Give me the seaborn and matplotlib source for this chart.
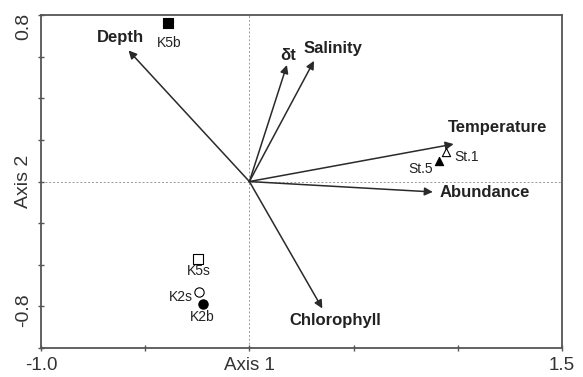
import matplotlib
matplotlib.use("Agg")
import matplotlib.pyplot as plt
import matplotlib.transforms as mtransforms
import seaborn as sns
import pandas as pd

# ---- data ----
site_names = ["K5b", "K5s", "K2s", "K2b", "St.1", "St.5"]
site_x = [-0.39, -0.245, -0.24, -0.225, 0.945, 0.91]
site_y = [0.76, -0.37, -0.53, -0.59, 0.14, 0.10]
site_marker = ["s", "s", "o", "o", "^", "^"]
site_filled = [True, False, False, True, False, True]
site_label_x = [-0.385, -0.245, -0.33, -0.225, 1.04, 0.82]
site_label_y = [0.667, -0.43, -0.555, -0.65, 0.12, 0.062]

var_names = ["Depth", "δt", "Salinity", "Temperature", "Abundance", "Chlorophyll"]
var_x = [-0.58, 0.18, 0.31, 0.98, 0.88, 0.35]
var_y = [0.63, 0.56, 0.58, 0.18, -0.05, -0.61]
var_label_x = [-0.62, 0.187, 0.40, 1.19, 1.13, 0.41]
var_label_y = [0.69, 0.605, 0.64, 0.26, -0.055, -0.67]

x_ticks = [-1.0, -0.5, 0.0, 0.5, 1.0, 1.5]
x_tick_labels = ["-1.0", "", "Axis 1", "", "", "1.5"]
y_ticks = [-0.8, -0.6, -0.4, -0.2, 0.0, 0.2, 0.4, 0.6, 0.8]
y_label_texts = ["-0.8", "Axis 2", "0.8"]
y_label_pos = [-0.62, 0.0, 0.745]

sns.set_style("white")
plt.rcParams["font.family"] = ["Liberation Sans", "DejaVu Sans"]

fig = plt.figure(figsize=(5.83, 3.77), dpi=100)
ax = fig.add_axes([0.0703, 0.0769, 0.8937, 0.8831])

ax.set_xlim(-1.0, 1.5)
ax.set_ylim(-0.8, 0.8)

ax.axvline(0, color="#999999", lw=0.7, ls=(0, (2, 2)), zorder=0)
ax.axhline(0, color="#999999", lw=0.7, ls=(0, (2, 2)), zorder=0)

# arrows
for name, vx, vy, lx, ly in zip(var_names, var_x, var_y, var_label_x, var_label_y):
    ax.annotate("", xy=(vx, vy), xytext=(0, 0),
                arrowprops=dict(arrowstyle="-|>", color="#2a2a2a", lw=1.1,
                                mutation_scale=12, shrinkA=0, shrinkB=0))
    ax.text(lx, ly, name, fontsize=12, fontweight="bold", color="#222222",
            ha="center", va="center")

# sites
df = pd.DataFrame({"x": site_x, "y": site_y, "name": site_names})
sizes = {"s": 55, "o": 45, "^": 35}
for i, row in df.iterrows():
    m = site_marker[i]
    fc = "black" if site_filled[i] else "white"
    sns.scatterplot(x=[row["x"]], y=[row["y"]], marker=m, s=sizes[m], color=fc,
                    edgecolor="black", linewidth=0.8, ax=ax, zorder=3)
    ax.text(site_label_x[i], site_label_y[i], row["name"], fontsize=10,
            color="#222222", ha="center", va="center")

# ticks
ax.set_xticks(x_ticks)
ax.set_xticklabels(x_tick_labels, fontsize=13.5, color="#333333")
ax.set_yticks(y_ticks)
ax.set_yticklabels([""] * len(y_ticks))
ax.tick_params(axis="both", direction="inout", length=5, width=1.0, color="#555555")
ax.tick_params(axis="x", pad=4)
ax.tick_params(left=True, bottom=True)

trans = mtransforms.blended_transform_factory(ax.transAxes, ax.transData)
for t, yp in zip(y_label_texts, y_label_pos):
    ax.text(-0.017, yp, t, transform=trans, rotation=90, fontsize=14,
            color="#333333", ha="right", va="center")

for sp in ax.spines.values():
    sp.set_color("#555555")
    sp.set_linewidth(1.3)

ax.set_xlabel("")
ax.set_ylabel("")

fig.savefig("out.png", dpi=100)
